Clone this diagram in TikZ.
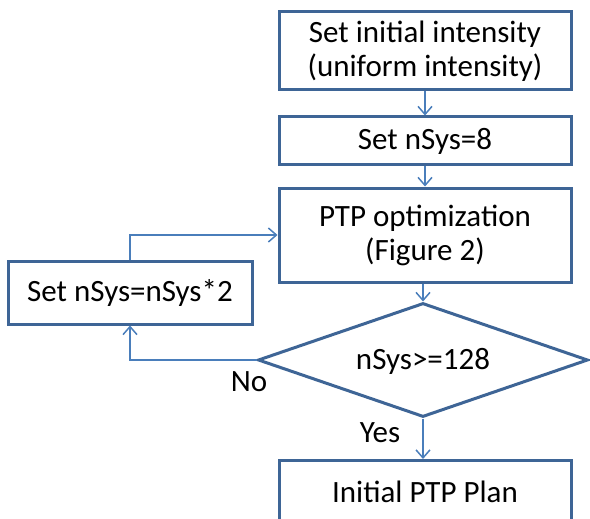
\documentclass[tikz,border=0pt]{standalone}
\usepackage{fontspec}
\setmainfont{Carlito}
\usetikzlibrary{shapes.geometric,arrows.meta}
\definecolor{boxline}{RGB}{62,101,150}
\definecolor{conline}{RGB}{74,126,187}
\begin{document}
\begin{tikzpicture}[x=1pt,y=1pt,
  stepbox/.style={draw=boxline,line width=3pt,fill=white,minimum width=292pt,inner sep=0pt,align=center,font=\fontsize{31}{34}\selectfont},
  decision/.style={diamond,draw=boxline,line width=3pt,fill=white,minimum width=330pt,minimum height=114pt,aspect=2.9,inner sep=0pt},
  conn/.style={draw=conline,line width=1.5pt,-{Straight Barb[length=8pt,width=14pt,line width=1.5pt]}},
  lbl/.style={font=\fontsize{31}{34}\selectfont,inner sep=0pt}]
\useasboundingbox (0,0) rectangle (590,-519);
\clip (0,0) rectangle (590,-519);
\node[stepbox,minimum height=78pt] (b1) at (425,-51) {Set initial intensity\\(uniform intensity)};
\node[stepbox,minimum height=48pt] (b2) at (425,-141) {Set nSys=8};
\node[stepbox,minimum height=94pt] (b3) at (425,-235) {PTP optimization\\(Figure 2)};
\node[decision] (d) at (423,-360) {};
\node[lbl] (dt) at (423,-361) {nSys>=128};
\node[stepbox,minimum width=244pt,minimum height=63pt] (b4) at (130,-292.5) {Set nSys=nSys*2};
\node[stepbox,minimum height=62pt,anchor=north] (b5) at (425,-459) {Initial PTP Plan};
\coordinate (c1) at (b4.north |- b3.west);
\coordinate (c2) at (b4.south |- d.west);
\draw[conn] (b1.south) -- (b2.north);
\draw[conn] (b2.south) -- (b3.north);
\draw[conn] (b3.south -| d.north) -- (d.north);
\draw[conn] (d.south) -- (b5.north -| d.south);
\draw[conn] (d.west) -- (c2) -- (b4.south);
\draw[conn] (b4.north) -- (c1) -- (b3.west);
\node[lbl] (yes) at (380,-433) {Yes};
\node[lbl] (no) at (249,-382) {No};
\end{tikzpicture}
\end{document}
